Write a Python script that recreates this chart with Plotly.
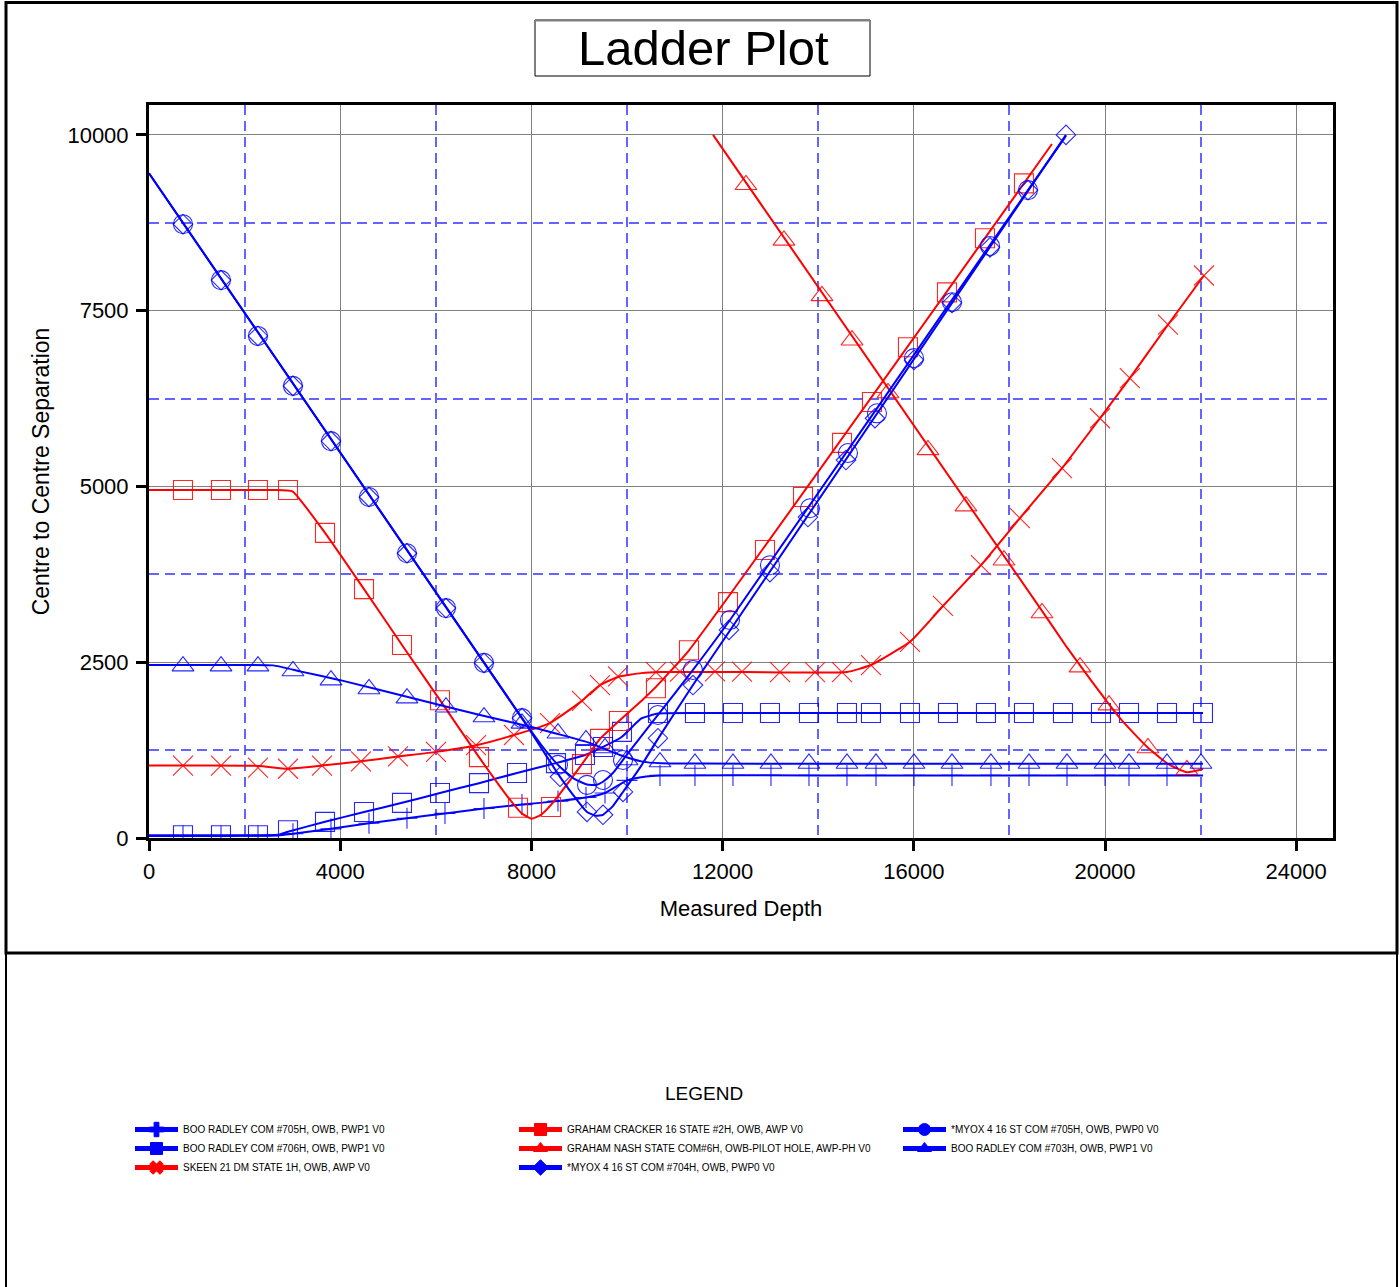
import plotly.graph_objects as go

# ---------------- data (Measured Depth, Centre to Centre Separation) ----------------
# BOO RADLEY COM #705H, OWB, PWP1 V0
br705_line_md = [0, 1500, 2700, 3012, 3807, 4602, 5397, 6192, 7008, 7803, 8556, 9142, 9540, 10000, 10400, 10690, 14000, 18000, 22050]
br705_line_v = [30, 30, 35, 60, 130, 210, 280, 350, 420, 475, 525, 575, 640, 820, 875, 890, 890, 890, 890]
br705_mk_md = [711, 1506, 2280, 3012, 3807, 4602, 5397, 6192, 7008, 7803, 8556, 9142, 9540, 10000, 10690,
               11422, 12217, 13012, 13807, 14602, 15209, 16004, 16799, 17614, 18410, 19205, 20000, 20502, 21297]
br705_mk_v = [30, 30, 30, 60, 130, 210, 280, 350, 420, 475, 525, 575, 640, 820, 890,
              890, 890, 890, 890, 890, 890, 890, 890, 890, 890, 890, 890, 890, 890]

# BOO RADLEY COM #706H, OWB, PWP1 V0
br706_line_md = [0, 1500, 2700, 2908, 3682, 4498, 5293, 6088, 6904, 7699, 8514, 9121, 9498, 9895, 10300, 10648, 11400, 14000, 18000, 22050]
br706_line_v = [40, 40, 45, 90, 230, 370, 500, 640, 780, 925, 1065, 1180, 1295, 1440, 1700, 1770, 1777, 1777, 1777, 1777]
br706_mk_md = [711, 1506, 2280, 2908, 3682, 4498, 5293, 6088, 6904, 7699, 8514, 9121, 9498, 9895, 10648,
               11422, 12217, 12991, 13807, 14602, 15104, 15920, 16715, 17510, 18305, 19121, 19916, 20502, 21297, 22050]
br706_mk_v = [40, 40, 40, 110, 230, 370, 500, 640, 780, 925, 1065, 1180, 1295, 1510, 1777,
              1777, 1777, 1777, 1777, 1777, 1777, 1777, 1777, 1777, 1777, 1777, 1777, 1777, 1777, 1777]

# SKEEN 21 DM STATE 1H, OWB, AWP V0
sk_line_md = [0, 1200, 2300, 2900, 3619, 4435, 5209, 6004, 6841, 7636, 8389, 9058, 9435, 9811, 10300, 10700,
              12500, 14600, 15104, 15920, 16610, 17405, 18220, 19100, 19895, 20520, 21317, 22070]
sk_line_v = [1030, 1030, 1025, 985, 1030, 1090, 1160, 1225, 1320, 1465, 1635, 1950, 2175, 2290, 2345, 2360,
             2360, 2360, 2460, 2790, 3300, 3880, 4550, 5260, 5970, 6540, 7300, 8000]
sk_mk_md = [711, 1506, 2280, 2908, 3619, 4435, 5209, 6004, 6841, 7636, 8389, 9058, 9435, 9811, 10606,
            11108, 11841, 12406, 13201, 13933, 14498, 15104, 15920, 16610, 17405, 18220, 19100, 19895, 20520, 21317, 22070]
sk_mk_v = [1030, 1030, 1000, 985, 1030, 1090, 1160, 1225, 1320, 1465, 1635, 1950, 2175, 2300, 2360,
           2365, 2370, 2365, 2360, 2360, 2360, 2460, 2790, 3300, 3880, 4550, 5260, 5970, 6540, 7300, 8000]

# GRAHAM CRACKER 16 STATE #2H, OWB, AWP V0
gc_line_md = [0, 1500, 2600, 3000, 3682, 4498, 5293, 6088, 6904, 7500, 7800, 8000, 8200, 8410, 9058, 9435, 9832, 10300, 10606, 11297, 18890]
gc_line_v = [4950, 4950, 4950, 4930, 4340, 3540, 2745, 1960, 1150, 590, 350, 275, 330, 470, 1050, 1410, 1665, 1950, 2150, 2670, 9870]
gc_mk_md = [711, 1506, 2280, 2908, 3682, 4498, 5293, 6088, 6904, 7720, 8410, 9058, 9435, 9832, 10606,
            11297, 12113, 12887, 13682, 14498, 15125, 15878, 16694, 17489, 18305]
gc_mk_v = [4950, 4950, 4950, 4950, 4340, 3540, 2745, 1960, 1150, 430, 440, 1050, 1410, 1665, 2130,
           2670, 3355, 4095, 4850, 5620, 6200, 6980, 7760, 8530, 9310]

# GRAHAM NASH STATE COM#6H, OWB-PILOT HOLE, AWP-PH V0
gn_line_md = [11800, 18682, 19205, 19700, 20041, 20376, 20878, 21297, 21715, 22050]
gn_line_v = [10000, 3230, 2710, 2250, 1940, 1654, 1298, 1062, 934, 980]
gn_mk_md = [12489, 13284, 14079, 14707, 15460, 16297, 17092, 17887, 18682, 19477, 20083, 20899, 21715]
gn_mk_v = [9290, 8500, 7710, 7080, 6330, 5520, 4720, 3950, 3200, 2430, 1890, 1280, 970]

# *MYOX 4 16 ST COM #704H, OWB, PWP0 V0
m704_line_md = [0, 7803, 8598, 9000, 9163, 9350, 9498, 9700, 9916, 10300, 10648, 11380, 19184]
m704_line_v = [9455, 1705, 870, 500, 370, 315, 330, 450, 655, 1030, 1410, 2175, 10000]
m704_mk_md = [711, 1506, 2280, 3012, 3807, 4602, 5397, 6213, 7008, 7803, 8598, 9163, 9498, 9916, 10648,
              11380, 12134, 12991, 13786, 14581, 15188, 16004, 16799, 17594, 18389, 19184]
m704_mk_v = [8730, 7935, 7140, 6430, 5645, 4850, 4050, 3270, 2490, 1705, 870, 370, 330, 655, 1420,
             2175, 2960, 3780, 4565, 5375, 5970, 6800, 7610, 8400, 9215, 10000]

# *MYOX 4 16 ST COM #705H, OWB, PWP0 V0
m705_line_md = [0, 7803, 8200, 8556, 8900, 9163, 9350, 9498, 9700, 9916, 10300, 10648, 11380, 12155, 18389, 19184]
m705_line_v = [9455, 1705, 1330, 1040, 840, 760, 755, 800, 920, 1110, 1450, 1750, 2390, 3100, 9215, 9985]
m705_mk_md = [711, 1506, 2280, 3012, 3807, 4602, 5397, 6213, 7008, 7803, 8556, 9163, 9498, 9916, 10648,
              11380, 12155, 12991, 13828, 14623, 15230, 16004, 16799, 17594, 18389]
m705_mk_v = [8730, 7935, 7140, 6430, 5645, 4850, 4050, 3270, 2490, 1705, 1040, 755, 825, 1110, 1750,
             2390, 3100, 3880, 4690, 5475, 6040, 6825, 7620, 8420, 9215]

# BOO RADLEY COM #703H, OWB, PWP1 V0
br703_line_md = [0, 1500, 2600, 3160, 4000, 6000, 6925, 8000, 9230, 9850, 10300, 10700, 11500, 14000, 18000, 22050]
br703_line_v = [2460, 2460, 2455, 2370, 2245, 1905, 1750, 1580, 1350, 1180, 1090, 1062, 1058, 1057, 1056, 1055]
br703_mk_md = [711, 1506, 2280, 3012, 3807, 4602, 5397, 6213, 7008, 7803, 8556, 9142, 9540, 10000, 10690,
               11422, 12217, 13012, 13807, 14602, 15209, 16004, 16799, 17614, 18410, 19205, 20000, 20502, 21297, 22008]
br703_mk_v = [2445, 2445, 2445, 2375, 2245, 2120, 1990, 1860, 1720, 1630, 1490, 1395, 1280, 1110, 1080,
              1060, 1060, 1060, 1060, 1060, 1060, 1060, 1060, 1060, 1060, 1060, 1060, 1060, 1060, 1060]

x_ticks = [0, 4000, 8000, 12000, 16000, 20000, 24000]
x_minor = [2000, 6000, 10000, 14000, 18000, 22000]
y_ticks = [0, 2500, 5000, 7500, 10000]
y_minor = [1250, 3750, 6250, 8750]

BLUE = "#0000FF"
RED = "#FF0000"
FONT = "Liberation Sans, Arial, sans-serif"

fig = go.Figure()

series = [
    # name, colour, line md, line v, marker md, marker v, symbol, size, legend symbol
    ("BOO RADLEY COM #705H, OWB, PWP1 V0", BLUE, br705_line_md, br705_line_v, br705_mk_md, br705_mk_v, "cross-thin-open", 15, "cross"),
    ("BOO RADLEY COM #706H, OWB, PWP1 V0", BLUE, br706_line_md, br706_line_v, br706_mk_md, br706_mk_v, "square-open", 19, "square"),
    ("SKEEN 21 DM STATE 1H, OWB, AWP V0", RED, sk_line_md, sk_line_v, sk_mk_md, sk_mk_v, "x-thin-open", 20, "x"),
    ("GRAHAM CRACKER 16 STATE #2H, OWB, AWP V0", RED, gc_line_md, gc_line_v, gc_mk_md, gc_mk_v, "square-open", 19, "square"),
    ("GRAHAM NASH STATE COM#6H, OWB-PILOT HOLE, AWP-PH V0", RED, gn_line_md, gn_line_v, gn_mk_md, gn_mk_v, "triangle-up-open", 19, "triangle-up"),
    ("*MYOX 4 16 ST COM #704H, OWB, PWP0 V0", BLUE, m704_line_md, m704_line_v, m704_mk_md, m704_mk_v, "diamond-open", 15, "diamond"),
    ("*MYOX 4 16 ST COM #705H, OWB, PWP0 V0", BLUE, m705_line_md, m705_line_v, m705_mk_md, m705_mk_v, "circle-open", 19, "circle"),
    ("BOO RADLEY COM #703H, OWB, PWP1 V0", BLUE, br703_line_md, br703_line_v, br703_mk_md, br703_mk_v, "triangle-up-open", 19, "triangle-up"),
]

for name, col, lmd, lv, mmd, mv, sym, size, _ in series:
    fig.add_trace(go.Scatter(x=lmd, y=lv, mode="lines", showlegend=False, hoverinfo="skip",
                             line=dict(color=col, width=2, shape="spline", smoothing=0.4)))
    fig.add_trace(go.Scatter(x=mmd, y=mv, mode="markers", showlegend=False, name=name,
                             marker=dict(symbol=sym, size=size, color=col, opacity=0.85,
                                         line=dict(color=col, width=1.1))))

# legend entries (row-major order to get three columns)
legend_order = [0, 3, 6, 1, 4, 7, 2, 5]
for i in legend_order:
    name, col, *_rest, lsym = series[i]
    fig.add_trace(go.Scatter(x=[None], y=[None], mode="lines+markers", name=name,
                             line=dict(color=col, width=5),
                             marker=dict(symbol=lsym, size=12, color=col, line=dict(color=col, width=1))))

def px_x(px):
    return (px - 149) / 1184.0

def px_y(py):
    return (838 - py) / 733.0

shapes = [
    dict(type="rect", xref="paper", yref="paper", x0=px_x(6), x1=px_x(1397), y0=px_y(2.5), y1=px_y(953),
         line=dict(color="black", width=3), layer="above"),
    dict(type="rect", xref="paper", yref="paper", x0=px_x(6), x1=px_x(1397), y0=px_y(953), y1=px_y(1295),
         line=dict(color="black", width=2), layer="above"),
    dict(type="rect", xref="paper", yref="paper", x0=px_x(535), x1=px_x(870), y0=px_y(20), y1=px_y(76),
         line=dict(color="black", width=1), layer="above"),
    dict(type="line", xref="paper", yref="paper", x0=px_x(535), x1=px_x(870), y0=px_y(20.5), y1=px_y(20.5),
         line=dict(color="#808080", width=2), layer="above"),
]

annotations = [
    dict(text="Ladder Plot", xref="paper", yref="paper", x=px_x(703), y=px_y(48), showarrow=False,
         xanchor="center", yanchor="middle", font=dict(family=FONT, size=49, color="black")),
    dict(text="LEGEND", xref="paper", yref="paper", x=px_x(704), y=px_y(1093), showarrow=False,
         xanchor="center", yanchor="middle", font=dict(family=FONT, size=19, color="black")),
]

fig.update_layout(
    width=1400, height=1287,
    margin=dict(l=149, r=1400 - 1333, t=105, b=1287 - 838, pad=0),
    paper_bgcolor="white", plot_bgcolor="white",
    font=dict(family=FONT, color="black"),
    shapes=shapes, annotations=annotations,
    showlegend=True,
    legend=dict(orientation="h", x=px_x(130), y=px_y(1115), xanchor="left", yanchor="top",
                entrywidth=326, itemwidth=43, font=dict(family=FONT, size=10, color="black"),
                bgcolor="rgba(0,0,0,0)", tracegroupgap=0, itemclick=False, itemdoubleclick=False),
    xaxis=dict(range=[0, 24770], tickmode="array", tickvals=x_ticks, ticktext=[str(v) for v in x_ticks],
               showgrid=True, gridcolor="#808080", gridwidth=1,
               minor=dict(tickmode="array", tickvals=x_minor, showgrid=True, gridcolor="rgba(60,60,255,0.8)",
                          griddash="10px,6px", gridwidth=1.5, ticks=""),
               showline=True, linecolor="black", linewidth=3, mirror=True,
               ticks="outside", ticklen=10, tickwidth=3, tickcolor="black", ticklabelstandoff=2,
               zeroline=False, tickfont=dict(family=FONT, size=22),
               title=dict(text="Measured Depth", font=dict(family=FONT, size=22), standoff=18)),
    yaxis=dict(range=[0, 10425], tickmode="array", tickvals=y_ticks, ticktext=[str(v) for v in y_ticks],
               showgrid=True, gridcolor="#808080", gridwidth=1,
               minor=dict(tickmode="array", tickvals=y_minor, showgrid=True, gridcolor="rgba(60,60,255,0.8)",
                          griddash="10px,6px", gridwidth=1.5, ticks=""),
               showline=True, linecolor="black", linewidth=3, mirror=True,
               ticks="outside", ticklen=10, tickwidth=3, tickcolor="black", ticklabelstandoff=3,
               zeroline=False, tickfont=dict(family=FONT, size=22),
               title=dict(text="Centre to Centre Separation", font=dict(family=FONT, size=23), standoff=12)),
)

# remove the default page margin so the 1400x1287 figure fills the window exactly
fig.write_html("out.html",
               config={"displayModeBar": False, "displaylogo": False},
               post_script="document.body.style.margin='0px';document.body.style.overflow='hidden';")
